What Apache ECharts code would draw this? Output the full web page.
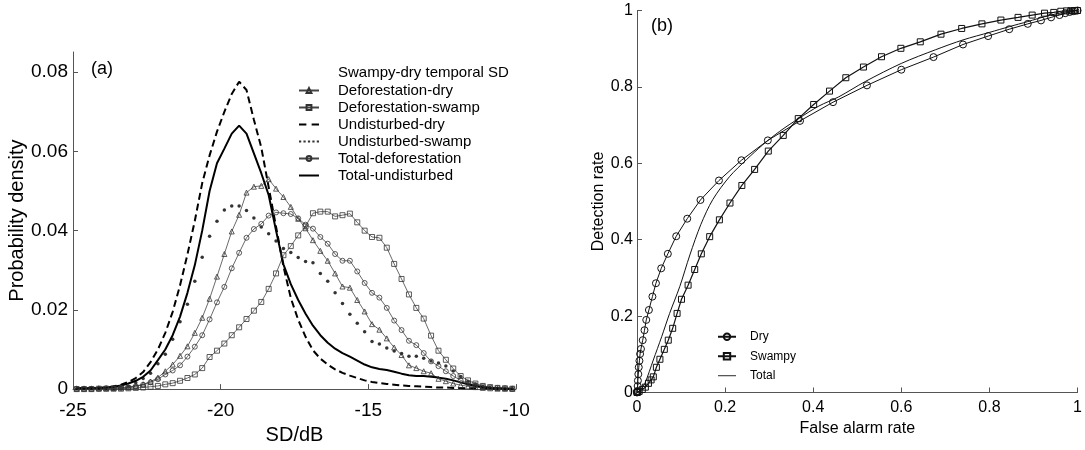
<!DOCTYPE html>
<html><head><meta charset="utf-8">
<script src="https://cdn.jsdelivr.net/npm/echarts@6/dist/echarts.min.js"></script>
<style>html,body{margin:0;padding:0;background:#fff}#c{width:1085px;height:450px}</style>
</head><body><div id="c"></div>
<script>
// ---- Panel (a): probability density of temporal SD (bin centres, dB) ----
const SD_BINS = [-24.875,-24.625,-24.375,-24.125,-23.875,-23.625,-23.375,-23.125,-22.875,-22.625,
  -22.375,-22.125,-21.875,-21.625,-21.375,-21.125,-20.875,-20.625,-20.375,-20.125,
  -19.875,-19.625,-19.375,-19.125,-18.875,-18.625,-18.375,-18.125,-17.875,-17.625,
  -17.375,-17.125,-16.875,-16.625,-16.375,-16.125,-15.875,-15.625,-15.375,-15.125,
  -14.875,-14.625,-14.375,-14.125,-13.875,-13.625,-13.375,-13.125,-12.875,-12.625,
  -12.375,-12.125,-11.875,-11.625,-11.375,-11.125,-10.875,-10.625,-10.375,-10.125];
const DEF_DRY = [0.0001,0.0001,0.0001,0.0002,0.0002,0.0003,0.0004,0.0005,0.0008,0.0012,
  0.0019,0.0029,0.0045,0.0062,0.0084,0.0108,0.0142,0.0180,0.0228,0.0284,
  0.0341,0.0398,0.0440,0.0496,0.0511,0.0513,0.0530,0.0506,0.0485,0.0460,
  0.0430,0.0406,0.0376,0.0349,0.0324,0.0292,0.0259,0.0256,0.0225,0.0196,
  0.0164,0.0150,0.0128,0.0105,0.0086,0.0060,0.0053,0.0045,0.0040,0.0026,
  0.0020,0.0014,0.0010,0.0007,0.0005,0.0003,0.0002,0.0001,0.0001,0.0001];
const DEF_SWAMP = [0.0000,0.0000,0.0000,0.0001,0.0001,0.0001,0.0001,0.0002,0.0003,0.0004,
  0.0006,0.0008,0.0012,0.0015,0.0021,0.0028,0.0037,0.0053,0.0081,0.0097,
  0.0115,0.0136,0.0156,0.0177,0.0198,0.0220,0.0253,0.0292,0.0338,0.0361,
  0.0388,0.0411,0.0444,0.0448,0.0448,0.0436,0.0439,0.0443,0.0421,0.0400,
  0.0384,0.0382,0.0357,0.0316,0.0278,0.0239,0.0205,0.0178,0.0135,0.0097,
  0.0074,0.0052,0.0033,0.0022,0.0014,0.0008,0.0005,0.0003,0.0002,0.0001];
const UND_DRY = [0.0002,0.0002,0.0003,0.0003,0.0004,0.0007,0.0011,0.0018,0.0028,0.0043,
  0.0068,0.0100,0.0142,0.0195,0.0262,0.0340,0.0425,0.0520,0.0590,0.0650,
  0.0700,0.0745,0.0776,0.0755,0.0680,0.0610,0.0510,0.0410,0.0310,0.0230,
  0.0175,0.0132,0.0098,0.0077,0.0062,0.0050,0.0041,0.0034,0.0028,0.0022,
  0.0018,0.0015,0.0013,0.0011,0.0009,0.0008,0.0007,0.0006,0.0005,0.0004,
  0.0004,0.0003,0.0003,0.0002,0.0002,0.0002,0.0001,0.0001,0.0001,0.0001];
const UND_SWAMP = [0.0001,0.0001,0.0001,0.0001,0.0002,0.0002,0.0003,0.0005,0.0016,0.0027,
  0.0040,0.0064,0.0088,0.0126,0.0170,0.0214,0.0272,0.0333,0.0386,0.0424,
  0.0452,0.0462,0.0462,0.0451,0.0432,0.0409,0.0392,0.0374,0.0355,0.0345,
  0.0332,0.0322,0.0319,0.0292,0.0272,0.0243,0.0216,0.0189,0.0166,0.0145,
  0.0120,0.0114,0.0104,0.0096,0.0090,0.0083,0.0083,0.0078,0.0071,0.0066,
  0.0058,0.0046,0.0032,0.0020,0.0012,0.0007,0.0004,0.0002,0.0001,0.0001];
const TOT_DEF = [0.0001,0.0001,0.0001,0.0001,0.0002,0.0002,0.0003,0.0004,0.0007,0.0011,
  0.0017,0.0025,0.0037,0.0047,0.0060,0.0082,0.0107,0.0136,0.0176,0.0219,
  0.0258,0.0305,0.0344,0.0382,0.0404,0.0417,0.0438,0.0446,0.0444,0.0442,
  0.0431,0.0415,0.0405,0.0384,0.0367,0.0341,0.0324,0.0324,0.0297,0.0268,
  0.0243,0.0231,0.0205,0.0173,0.0149,0.0122,0.0111,0.0091,0.0070,0.0058,
  0.0045,0.0033,0.0022,0.0015,0.0010,0.0007,0.0004,0.0003,0.0002,0.0001];
const TOT_UND = [0.0002,0.0002,0.0002,0.0003,0.0004,0.0006,0.0009,0.0014,0.0021,0.0031,
  0.0047,0.0073,0.0100,0.0136,0.0183,0.0243,0.0313,0.0400,0.0500,0.0570,
  0.0607,0.0645,0.0665,0.0645,0.0595,0.0545,0.0490,0.0400,0.0315,0.0265,
  0.0225,0.0190,0.0160,0.0136,0.0117,0.0102,0.0091,0.0082,0.0072,0.0062,
  0.0055,0.0051,0.0048,0.0044,0.0039,0.0035,0.0033,0.0033,0.0031,0.0029,
  0.0026,0.0022,0.0017,0.0012,0.0008,0.0005,0.0003,0.0002,0.0001,0.0001];
const Y_TICKS_A = [0, 0.02, 0.04, 0.06, 0.08];

// ---- Panel (b): ROC curves ----
const DRY_FA  = [0,0.0002,0.0005,0.001,0.0015,0.002,0.003,0.004,0.0055,0.007,0.009,0.013,0.017,0.021,0.027,0.035,0.043,0.055,0.070,0.089,0.114,0.144,0.186,0.237,0.297,0.370,0.445,0.522,0.600,0.673,0.740,0.797,0.845,0.887,0.917,0.940,0.959,0.972,0.982,0.990,0.995,1];
const DRY_DET = [0,0.001,0.002,0.004,0.017,0.031,0.048,0.066,0.083,0.101,0.114,0.137,0.163,0.190,0.216,0.251,0.286,0.325,0.363,0.409,0.455,0.504,0.555,0.608,0.660,0.711,0.760,0.804,0.845,0.878,0.911,0.933,0.951,0.965,0.974,0.982,0.988,0.993,0.996,0.998,0.999,1];
const SWAMP_FA  = [0,0.002,0.005,0.012,0.019,0.026,0.032,0.037,0.044,0.052,0.062,0.071,0.081,0.091,0.101,0.116,0.131,0.146,0.165,0.187,0.211,0.238,0.267,0.298,0.332,0.366,0.401,0.437,0.474,0.514,0.555,0.599,0.643,0.690,0.737,0.783,0.826,0.865,0.897,0.925,0.946,0.962,0.975,0.985,0.993,1];
const SWAMP_DET = [0,0.001,0.003,0.008,0.014,0.024,0.033,0.041,0.066,0.087,0.113,0.137,0.168,0.207,0.244,0.281,0.322,0.363,0.408,0.452,0.496,0.542,0.584,0.632,0.673,0.717,0.754,0.789,0.824,0.852,0.879,0.901,0.918,0.938,0.953,0.965,0.975,0.982,0.988,0.993,0.995,0.998,0.999,0.9995,1,1];
const TOTAL_FA  = [0,0.005,0.010,0.018,0.037,0.056,0.074,0.097,0.120,0.145,0.172,0.210,0.248,0.285,0.323,0.368,0.413,0.458,0.518,0.601,0.677,0.740,0.801,0.846,0.887,0.932,0.977,1];
const TOTAL_DET = [0,0.004,0.010,0.024,0.085,0.146,0.207,0.277,0.360,0.440,0.505,0.565,0.609,0.648,0.683,0.718,0.750,0.774,0.814,0.862,0.897,0.923,0.943,0.958,0.971,0.986,0.997,1];

const FONT = "'Liberation Sans', Arial, sans-serif";
const pairs = (xs, ys) => xs.map((x, i) => [x, ys[i]]);
const hollow = { color: 'rgba(0,0,0,0)', borderColor: '#333', borderWidth: 0.8 };
const thin = { color: '#444', width: 0.8 };
const ICON_DASH = 'path://M0 0h7v2H0zM12 0h7v2h-7z';
const ICON_DOTS = 'path://M0 0h2v2H0zM4 0h2v2H4zM8 0h2v2H8zM12 0h2v2h-2zM16 0h2v2h-2z';
const ICON_SOLID = 'path://M0 0h20v2H0z';
const ICON_THIN = 'path://M0 0h20v1H0z';

const chart = echarts.init(document.getElementById('c'), null, { renderer: 'canvas' });
chart.setOption({
  animation: false,
  backgroundColor: '#fff',
  textStyle: { fontFamily: FONT, color: '#000' },
  title: [
    { text: 'Swampy-dry temporal SD', left: 338, top: 65, padding: 0,
      textStyle: { fontSize: 15, fontWeight: 'normal', fontFamily: FONT, color: '#000' } },
    { text: '(a)', left: 91, top: 60, padding: 0,
      textStyle: { fontSize: 18, fontWeight: 'normal', fontFamily: FONT, color: '#000' } },
    { text: '(b)', left: 651, top: 17, padding: 0,
      textStyle: { fontSize: 18, fontWeight: 'normal', fontFamily: FONT, color: '#000' } }
  ],
  legend: [
    { orient: 'vertical', left: 298, top: 82, padding: 0, itemGap: 0, itemWidth: 20, itemHeight: 6,
      selectedMode: false,
      textStyle: { fontSize: 15, fontFamily: FONT, color: '#000', lineHeight: 17, padding: [0, 0, 0, 14] },
      data: [
        { name: 'Deforestation-dry' },
        { name: 'Deforestation-swamp' },
        { name: 'Undisturbed-dry', icon: ICON_DASH, itemStyle: { color: '#000' } },
        { name: 'Undisturbed-swamp', icon: ICON_DOTS, itemStyle: { color: '#000' } },
        { name: 'Total-deforestation' },
        { name: 'Total-undisturbed', icon: ICON_SOLID, itemStyle: { color: '#000' } }
      ] },
    { orient: 'vertical', left: 717, top: 327, padding: 0, itemGap: 0, itemWidth: 18, itemHeight: 8,
      selectedMode: false,
      textStyle: { fontSize: 12, fontFamily: FONT, color: '#000', lineHeight: 19.5, padding: [0, 0, 0, 9] },
      data: [
        { name: 'Dry' },
        { name: 'Swampy' },
        { name: 'Total', icon: ICON_THIN, itemStyle: { color: '#111' } }
      ] }
  ],
  grid: [
    { left: 73, top: 52, width: 443, height: 343 },
    { left: 637, top: 10.5, width: 443, height: 382 }
  ],
  xAxis: [
    { gridIndex: 0, type: 'value', min: -25, max: -10, interval: 5,
      axisLine: { lineStyle: { color: '#555', width: 1 } },
      axisTick: { inside: true, length: 5, lineStyle: { color: '#555' } },
      axisLabel: { fontSize: 19, color: '#000', margin: 12, fontFamily: FONT },
      splitLine: { show: false },
      name: 'SD/dB', nameLocation: 'middle', nameGap: 23,
      nameTextStyle: { fontSize: 20, color: '#000', fontFamily: FONT } },
    { gridIndex: 1, type: 'value', min: 0, max: 1, interval: 0.2,
      axisLine: { lineStyle: { color: '#555', width: 1 } },
      axisTick: { inside: true, length: 5, lineStyle: { color: '#555' } },
      axisLabel: { fontSize: 16, color: '#000', margin: 7, fontFamily: FONT },
      splitLine: { show: false },
      name: 'False alarm rate', nameLocation: 'middle', nameGap: 21,
      nameTextStyle: { fontSize: 16, color: '#000', fontFamily: FONT } }
  ],
  yAxis: [
    { gridIndex: 0, type: 'value', min: 0, max: 0.0851,
      axisLine: { show: true, lineStyle: { color: '#555', width: 1 } },
      axisTick: { show: true, inside: true, length: 5, customValues: Y_TICKS_A, lineStyle: { color: '#555' } },
      axisLabel: { fontSize: 19, color: '#000', margin: 5, fontFamily: FONT, customValues: Y_TICKS_A },
      splitLine: { show: false },
      name: 'Probability density', nameLocation: 'middle', nameGap: 42,
      nameTextStyle: { fontSize: 20, color: '#000', fontFamily: FONT } },
    { gridIndex: 1, type: 'value', min: 0, max: 1, interval: 0.2,
      axisLine: { show: true, lineStyle: { color: '#555', width: 1 } },
      axisTick: { show: true, inside: true, length: 5, lineStyle: { color: '#555' } },
      axisLabel: { fontSize: 16, color: '#000', margin: 4, fontFamily: FONT },
      splitLine: { show: false },
      name: 'Detection rate', nameLocation: 'middle', nameGap: 25,
      nameTextStyle: { fontSize: 16, color: '#000', fontFamily: FONT } }
  ],
  series: [
    { name: 'Deforestation-dry', type: 'line', xAxisIndex: 0, yAxisIndex: 0, silent: true,
      data: pairs(SD_BINS, DEF_DRY), symbol: 'triangle', symbolSize: 5, showAllSymbol: true,
      itemStyle: hollow, lineStyle: thin },
    { name: 'Deforestation-swamp', type: 'line', xAxisIndex: 0, yAxisIndex: 0, silent: true,
      data: pairs(SD_BINS, DEF_SWAMP), symbol: 'rect', symbolSize: 5, showAllSymbol: true,
      itemStyle: hollow, lineStyle: thin },
    { name: 'Undisturbed-dry', type: 'line', xAxisIndex: 0, yAxisIndex: 0, silent: true,
      data: pairs(SD_BINS, UND_DRY), symbol: 'none',
      itemStyle: { color: '#000' }, lineStyle: { color: '#000', width: 2, type: [7, 4] } },
    { name: 'Undisturbed-swamp', type: 'scatter', xAxisIndex: 0, yAxisIndex: 0, silent: true,
      data: pairs(SD_BINS, UND_SWAMP), symbol: 'circle', symbolSize: 3.5,
      itemStyle: { color: '#000' } },
    { name: 'Total-deforestation', type: 'line', xAxisIndex: 0, yAxisIndex: 0, silent: true,
      data: pairs(SD_BINS, TOT_DEF), symbol: 'circle', symbolSize: 5, showAllSymbol: true,
      itemStyle: hollow, lineStyle: thin },
    { name: 'Total-undisturbed', type: 'line', xAxisIndex: 0, yAxisIndex: 0, silent: true,
      data: pairs(SD_BINS, TOT_UND), symbol: 'none',
      itemStyle: { color: '#000' }, lineStyle: { color: '#000', width: 2 } },

    { name: 'Dry', type: 'line', xAxisIndex: 1, yAxisIndex: 1, silent: true,
      data: pairs(DRY_FA, DRY_DET), symbol: 'circle', symbolSize: 7, showAllSymbol: true,
      itemStyle: { color: 'rgba(0,0,0,0)', borderColor: '#111', borderWidth: 1 },
      lineStyle: { color: '#111', width: 1 } },
    { name: 'Swampy', type: 'line', xAxisIndex: 1, yAxisIndex: 1, silent: true,
      data: pairs(SWAMP_FA, SWAMP_DET), symbol: 'rect', symbolSize: 6, showAllSymbol: true,
      itemStyle: { color: 'rgba(0,0,0,0)', borderColor: '#111', borderWidth: 1 },
      lineStyle: { color: '#111', width: 1.2 } },
    { name: 'Total', type: 'line', xAxisIndex: 1, yAxisIndex: 1, silent: true,
      data: pairs(TOTAL_FA, TOTAL_DET), symbol: 'none', smooth: 0.3,
      itemStyle: { color: '#111' }, lineStyle: { color: '#111', width: 1 } }
  ]
});
</script>
</body></html>
